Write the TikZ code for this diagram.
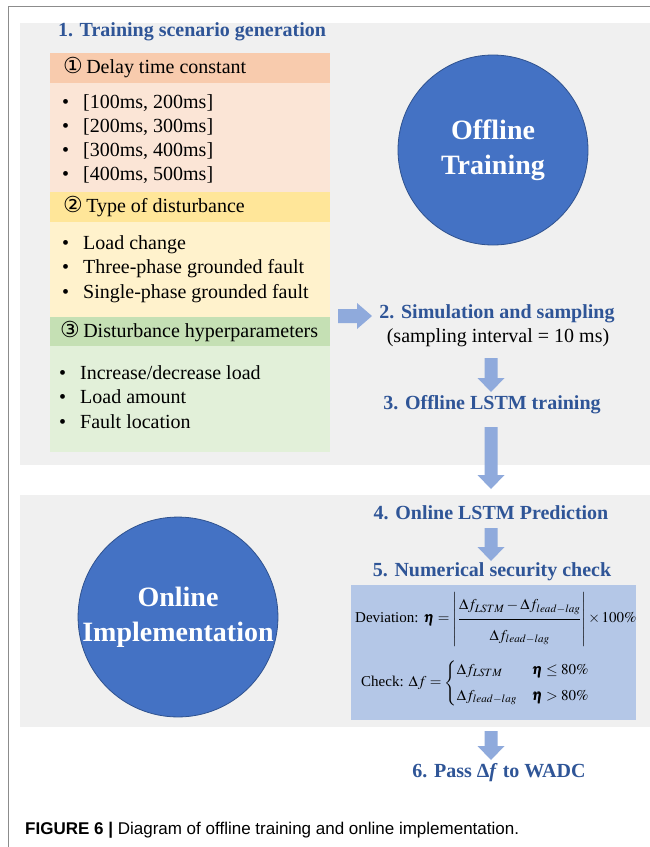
\documentclass[tikz,border=0pt]{standalone}
\usepackage{amsmath}
\usepackage{mathptmx}
\usepackage{bm}
\usepackage[no-math]{fontspec}
\setmainfont{Liberation Serif}
\newfontfamily\sansf{Liberation Sans}
\newfontfamily\symf{DejaVu Sans}
\definecolor{blueT}{HTML}{2F5597}
\definecolor{circ}{HTML}{4472C4}
\definecolor{circB}{HTML}{2F528F}
\definecolor{arr}{HTML}{8FAADC}
\definecolor{panel}{HTML}{F0F0F0}
\definecolor{hA}{HTML}{F8CBAD}
\definecolor{bA}{HTML}{FBE5D6}
\definecolor{hB}{HTML}{FFE699}
\definecolor{bB}{HTML}{FFF2CC}
\definecolor{hC}{HTML}{C5E0B4}
\definecolor{bC}{HTML}{E2F0D9}
\definecolor{boxB}{HTML}{B4C7E7}
\newcommand{\varrow}[4]{\fill[arr] ({#1-6.5},#2) -- ({#1+6.5},#2) -- ({#1+6.5},#3) -- ({#1+13.5},#3) -- (#1,#4) -- ({#1-13.5},#3) -- ({#1-6.5},#3) -- cycle;}
\newcommand{\itm}[1]{\makebox[21pt][l]{\textbullet}#1}
\newcommand{\circnum}[1]{{\symf\fontsize{22}{24}\selectfont #1}}
\begin{document}
\begin{tikzpicture}[x=1pt,y=-1pt,
  ttl/.style={font=\fontsize{20}{24}\selectfont\bfseries, text=blueT, inner sep=0pt},
  txt/.style={font=\fontsize{20}{24}\selectfont, anchor=west, inner sep=0pt},
  bigcirc/.style={circle, fill=circ, draw=circB, line width=0.8pt, inner sep=0pt, align=center, text=white, font=\fontsize{28}{35}\selectfont\bfseries},
  fml/.style={font=\fontsize{15}{18}\selectfont, anchor=west, inner sep=0pt}]
\useasboundingbox (0,0) rectangle (650,847);
\fill[white] (0,0) rectangle (650,847);
\draw[gray!90, line width=0.8pt] (8,847) -- (8,6) -- (650,6);
% panels
\fill[panel] (20,23) rectangle (650,465);
\fill[panel] (20,495) rectangle (650,727);
% left boxes
\fill[hA] (50,53) rectangle (330,83);
\fill[bA] (50,83) rectangle (330,192);
\fill[hB] (50,192) rectangle (330,222);
\fill[bB] (50,222) rectangle (330,317);
\fill[hC] (50,317) rectangle (330,346);
\fill[bC] (50,346) rectangle (330,452);
\node[ttl] (t1) at (192,32) {1. Training scenario generation};
\node[txt] (h1) at (63,68) {\circnum{①}\,Delay time constant};
\node[txt] (i11) at (62,103) {\itm{[100ms, 200ms]}};
\node[txt] (i12) at (62,127) {\itm{[200ms, 300ms]}};
\node[txt] (i13) at (62,151) {\itm{[300ms, 400ms]}};
\node[txt] (i14) at (62,175) {\itm{[400ms, 500ms]}};
\node[txt] (h2) at (63,207) {\circnum{②}\,Type of disturbance};
\node[txt] (i21) at (62,245) {\itm{Load change}};
\node[txt] (i22) at (62,269) {\itm{Three-phase grounded fault}};
\node[txt] (i23) at (62,294) {\itm{Single-phase grounded fault}};
\node[txt] (h3) at (60,332) {\circnum{③}\,Disturbance hyperparameters};
\node[txt] (i31) at (59,373) {\itm{Increase/decrease load}};
\node[txt] (i32) at (59,397) {\itm{Load amount}};
\node[txt] (i33) at (59,422) {\itm{Fault location}};
% circles
\node[bigcirc, minimum size=190pt] (off) at (493,150) {Offline\\Training};
\node[bigcirc, minimum size=196pt] (onl) at (178,617) {Online\\Implementation};
% flow
\fill[arr] (338,309) -- (357,309) -- (357,303) -- (372,316) -- (357,329) -- (357,323) -- (338,323) -- cycle;
\node[ttl] (s2) at (497,314) {2. Simulation and sampling};
\node[inner sep=0pt, font=\fontsize{20}{24}\selectfont] (s2b) at (498,338) {(sampling interval = 10 ms)};
\varrow{491}{358}{378}{392}
\node[ttl] (s3) at (492,405) {3. Offline LSTM training};
\varrow{491}{427}{475}{489}
\node[ttl] (s4) at (491,513) {4. Online LSTM Prediction};
\varrow{491}{528}{547}{561}
\node[ttl] (s5) at (492,572) {5. Numerical security check};
\fill[boxB] (351,585) rectangle (636,720);
\node[fml] (dev) at (355,619) {Deviation: $\bm{\eta}=\left|\dfrac{\rule[-7pt]{0pt}{7pt}\Delta f_{LSTM}-\Delta f_{lead-lag}}{\rule{0pt}{19pt}\Delta f_{lead-lag}}\right|{\times}\,100\%$};
\node[fml] (chk) at (361,683) {Check: $\Delta f=\begin{cases}\Delta f_{LSTM} & \bm{\eta}\le 80\%\\[4pt] \Delta f_{lead-lag} & \bm{\eta}>80\%\end{cases}$};
\varrow{491}{731}{746}{760}
\node[ttl] (s6) at (499,773) {6. Pass Δ\textit{f} to WADC};
\node[anchor=base west, inner sep=0pt, font=\sansf\fontsize{17}{20}\selectfont] (cap) at (25,834) {\textbf{FIGURE 6 |} Diagram of offline training and online implementation.};
\end{tikzpicture}
\end{document}
